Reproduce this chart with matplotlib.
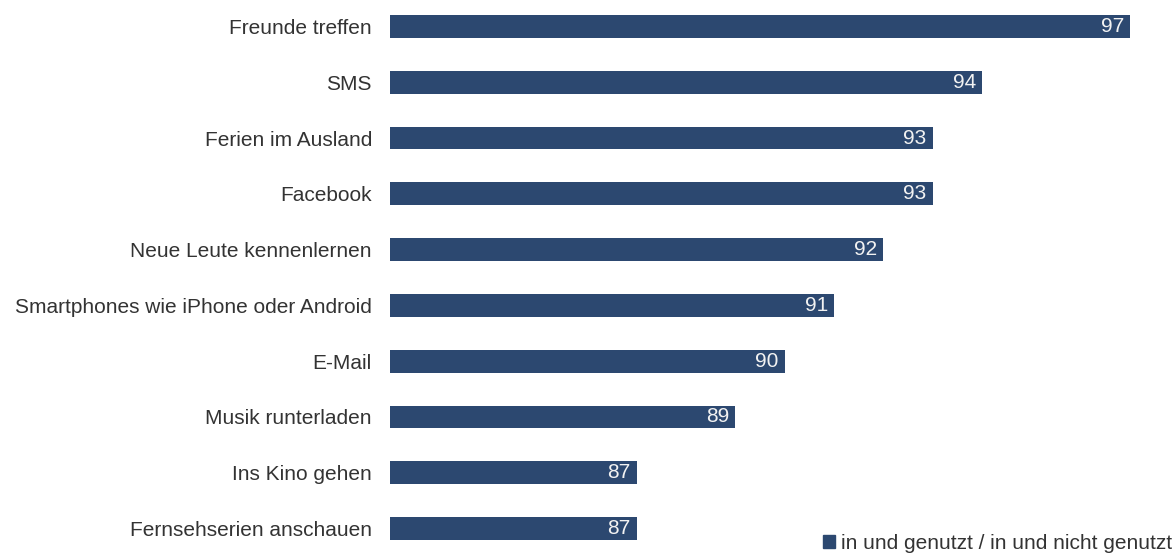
import matplotlib
matplotlib.use("Agg")
import matplotlib.pyplot as plt
from matplotlib.patches import Patch

categories = ["Freunde treffen", "SMS", "Ferien im Ausland", "Facebook",
              "Neue Leute kennenlernen", "Smartphones wie iPhone oder Android",
              "E-Mail", "Musik runterladen", "Ins Kino gehen", "Fernsehserien anschauen"]
values = [97, 94, 93, 93, 92, 91, 90, 89, 87, 87]
legend_label = "in und genutzt / in und nicht genutzt"

bar_color = "#2c4870"
text_color = "#333333"
plt.rcParams['font.family'] = ['Liberation Sans', 'DejaVu Sans']

W, H = 1173, 553
fig = plt.figure(figsize=(W / 100, H / 100), dpi=100)
ax_left = 390 / W
ax = fig.add_axes([ax_left, 0, 1 - ax_left, 1])

px_per_unit = 49.33
xmin = 82
ax.set_xlim(xmin, xmin + (W - 390) / px_per_unit)
spacing = 55.8
ax.set_ylim(9 + (H - 528.5) / spacing, -26.5 / spacing)

ypos = list(range(len(categories)))
ax.barh(ypos, [v - xmin for v in values], left=xmin, height=0.41, color=bar_color)

for y, v in zip(ypos, values):
    ax.text(v - 0.12, y, f"{v}", ha="right", va="center", color="#f2f2f2", fontsize=15)

ax.set_yticks(ypos)
ax.set_yticklabels(categories, fontsize=15, color=text_color)
ax.tick_params(axis="y", length=0, pad=13)
ax.set_xticks([])
for s in ax.spines.values():
    s.set_visible(False)

leg = fig.legend(handles=[Patch(color=bar_color, label=legend_label)],
                 loc="lower right", bbox_to_anchor=(0.999, 0.0), frameon=False,
                 fontsize=15, handlelength=0.6, handleheight=0.6, handletextpad=0.25,
                 borderaxespad=0, borderpad=0)
for t in leg.get_texts():
    t.set_color(text_color)

fig.savefig("out.png", dpi=100)
